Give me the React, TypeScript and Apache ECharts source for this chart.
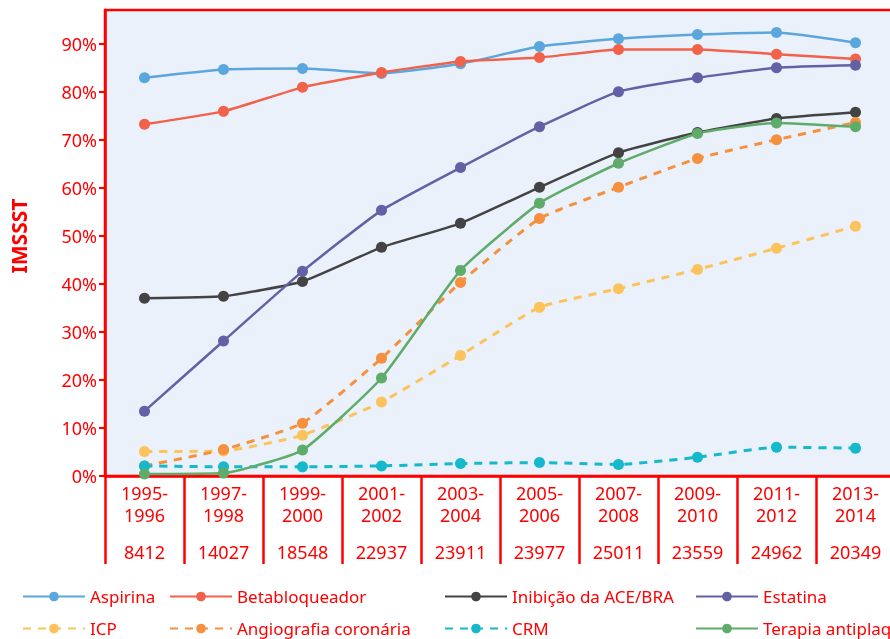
import React, { useEffect, useRef } from "react";
import * as echarts from "echarts";

const categories = ["1995-1996", "1997-1998", "1999-2000", "2001-2002", "2003-2004", "2005-2006", "2007-2008", "2009-2010", "2011-2012", "2013-2014"];
const counts = ["8412", "14027", "18548", "22937", "23911", "23977", "25011", "23559", "24962", "20349"];

const aspirina = [82.9, 84.6, 84.8, 83.8, 85.8, 89.4, 91.0, 91.9, 92.3, 90.2];
const betabloqueador = [73.2, 75.9, 80.9, 84.0, 86.3, 87.1, 88.8, 88.8, 87.8, 86.8];
const inibicao = [37.0, 37.4, 40.5, 47.6, 52.6, 60.1, 67.3, 71.5, 74.4, 75.7];
const estatina = [13.5, 28.1, 42.6, 55.3, 64.2, 72.7, 80.0, 82.9, 85.0, 85.5];
const icp = [5.1, 5.2, 8.5, 15.4, 25.1, 35.1, 39.0, 43.0, 47.4, 52.0];
const angiografia = [2.1, 5.5, 11.0, 24.5, 40.3, 53.6, 60.1, 66.1, 70.0, 73.6];
const crm = [2.1, 1.9, 1.9, 2.1, 2.6, 2.8, 2.4, 3.9, 6.0, 5.8];
const terapia = [0.4, 0.6, 5.4, 20.4, 42.8, 56.8, 65.1, 71.3, 73.5, 72.7];

const RED = "#ff0000";
const FONT = "Noto Sans";

const seriesDefs = [
  { name: "Aspirina", data: aspirina, color: "#5ba7dd", dashed: false },
  { name: "Betabloqueador", data: betabloqueador, color: "#f2614a", dashed: false },
  { name: "Inibição da ACE/BRA", data: inibicao, color: "#434343", dashed: false },
  { name: "Estatina", data: estatina, color: "#6460a6", dashed: false },
  { name: "ICP", data: icp, color: "#fcc35c", dashed: true },
  { name: "Angiografia coronária", data: angiografia, color: "#f5903f", dashed: true },
  { name: "CRM", data: crm, color: "#16b8cc", dashed: true },
  { name: "Terapia antiplaquetária", data: terapia, color: "#5eab6a", dashed: false },
];

const legendCols = [17, 164, 439, 690];
const legendRows = [583, 615];

export default function App() {
  const ref = useRef<HTMLDivElement>(null);
  useEffect(() => {
    if (!ref.current) return;
    const chart = echarts.init(ref.current, null, { renderer: "svg" });
    const legends = seriesDefs.map((s, i) => ({
      left: legendCols[i % 4],
      top: legendRows[Math.floor(i / 4)],
      data: [s.name],
      itemWidth: 62,
      itemHeight: 12,
      selectedMode: false,
      textStyle: { color: RED, fontSize: 17, fontFamily: FONT },
    }));
    chart.setOption({
      animation: false,
      textStyle: { fontFamily: FONT },
      legend: legends,
      grid: {
        left: 105,
        top: 10,
        width: 790,
        height: 466,
        outerBoundsMode: "none",
        containLabel: false,
        show: true,
        backgroundColor: "#eaf1fa",
        borderColor: RED,
        borderWidth: 2.5,
      },
      xAxis: {
        type: "category",
        data: categories,
        boundaryGap: true,
        axisLine: { lineStyle: { color: RED, width: 2.5 } },
        axisTick: { show: true, length: 88, lineStyle: { color: RED, width: 2.5 } },
        axisLabel: {
          interval: 0,
          margin: 6,
          color: RED,
          fontSize: 18,
          fontFamily: FONT,
          formatter: (v: string, idx: number) => {
            const [a, b] = v.split("-");
            return `{y|${a}-}\n{y|${b}}\n{n|${counts[idx]}}`;
          },
          rich: {
            y: { fontSize: 18, lineHeight: 22, color: RED, fontFamily: FONT },
            n: { fontSize: 18, lineHeight: 52, color: RED, fontFamily: FONT, verticalAlign: "middle" },
          },
        },
      },
      yAxis: {
        type: "value",
        min: 0,
        max: 97,
        interval: 10,
        name: "IMSSST",
        nameLocation: "middle",
        nameGap: 76,
        nameTextStyle: { color: RED, fontSize: 21, fontWeight: "bold", fontFamily: FONT, padding: [0, 0, 0, 14] },
        splitLine: { show: false },
        axisLine: { show: true, lineStyle: { color: RED, width: 2.5 } },
        axisTick: { show: true, length: 6, lineStyle: { color: RED, width: 2 } },
        axisLabel: {
          color: RED,
          fontSize: 18,
          fontFamily: FONT,
          margin: 8,
          showMaxLabel: false,
          formatter: (v: number) => (v % 10 === 0 ? `${v}%` : ""),
        },
      },
      series: seriesDefs.map((s) => ({
        name: s.name,
        type: "line",
        data: s.data,
        smooth: 0.15,
        symbol: "circle",
        symbolSize: 11,
        itemStyle: { color: s.color },
        lineStyle: {
          color: s.color,
          width: s.dashed ? 3 : 2.5,
          type: s.dashed ? [8, 7] : "solid",
        },
      })),
    });
    return () => chart.dispose();
  }, []);
  return <div ref={ref} style={{ position: "fixed", left: 0, top: 0, width: 890, height: 639 }} />;
}
